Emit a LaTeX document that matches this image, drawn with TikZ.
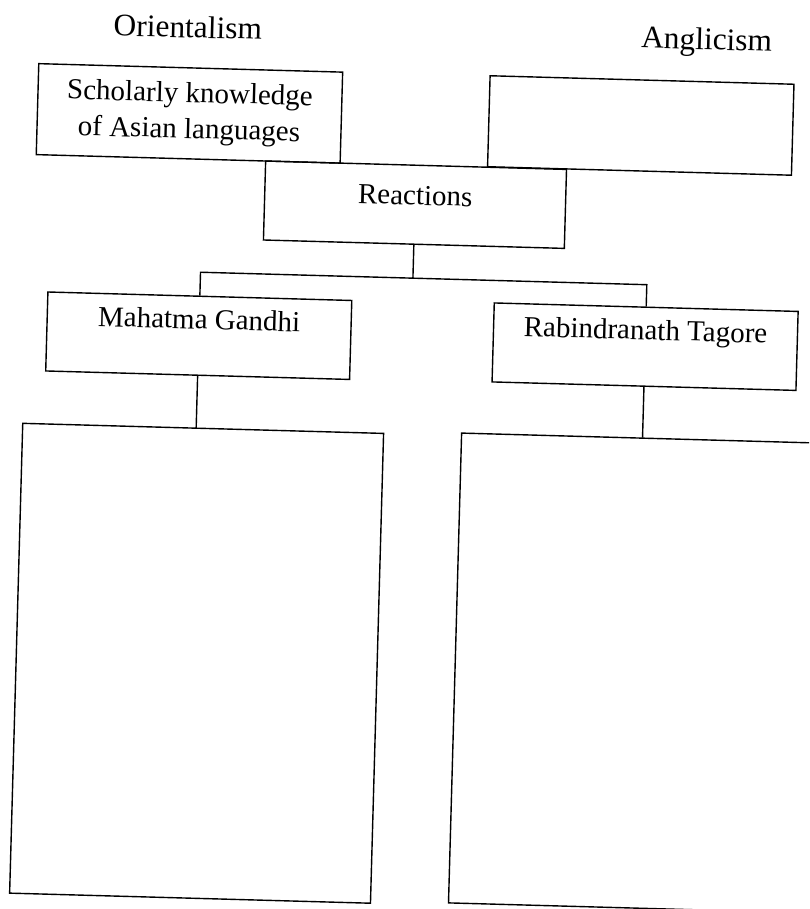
\documentclass[tikz,border=0pt]{standalone}
\usepackage{fontspec}
\setmainfont{Liberation Serif}
\usepackage{tikz}
\newcommand{\boxfont}{\fontsize{14.5}{18}\selectfont}
\newcommand{\headfont}{\fontsize{15.7}{19}\selectfont}
\tikzset{
    box/.style={rectangle,draw,line width=0.7pt,inner sep=0pt,font=\boxfont},
    topbox/.style={box,minimum width=152pt,minimum height=45.5pt,align=center},
    namebox/.style={box,minimum width=152pt,minimum height=39.5pt,text height=16.3pt,text depth=23.2pt},
    bigbox/.style={box,minimum height=235pt},
    heading/.style={rectangle,draw=none,inner sep=0pt,font=\headfont},
    link/.style={line width=0.7pt},
    }

\begin{document}
\begin{tikzpicture}[x=0.5pt,y=-0.5pt]
	\useasboundingbox (0,0) rectangle (809,909);
	\clip (0,0) rectangle (809,909);
	\begin{scope}[rotate around={-1.6:(404.5,454.5)},transform shape]
		\node[heading] (orient) at (176,33) {Orientalism};
		\node[heading] (anglic) at (695,34) {Anglicism};
		
		\node[topbox] (scholar) at (180,119.5) {Scholarly knowledge\\of Asian languages};
		\node[topbox] (angbox) at (631.5,119) {};
		
		\node[box,minimum width=150.5pt,minimum height=39.5pt,text height=19.8pt,text depth=19.7pt] (reactions) at (408,204.5) {Reactions};
		
		\node[namebox] (gandhi) at (195.5,341.5) {Mahatma Gandhi};
		\node[namebox] (tagore) at (642,340) {Rabindranath Tagore};
		
		\node[bigbox,minimum width=180.5pt] (leftbig) at (202.5,669) {};
		\node[bigbox,minimum width=194.5pt] (rightbig) at (655.5,666.5) {};
		
		\coordinate (split) at (408,278);
		\coordinate (gknee) at (195.5,278);
		\coordinate (tknee) at (642,278);
		\coordinate (gfoot) at (195.5,434);
		\coordinate (tfoot) at (642,431);
	
	\draw[link] (reactions.south) to (split);
	\draw[link] (gandhi.north) to (gknee) to (tknee) to (tagore.north);
	
	\draw[link] (gandhi.south) to (gfoot);
	\draw[link] (tagore.south) to (tfoot);
	\end{scope}
\end{tikzpicture}
\end{document}
